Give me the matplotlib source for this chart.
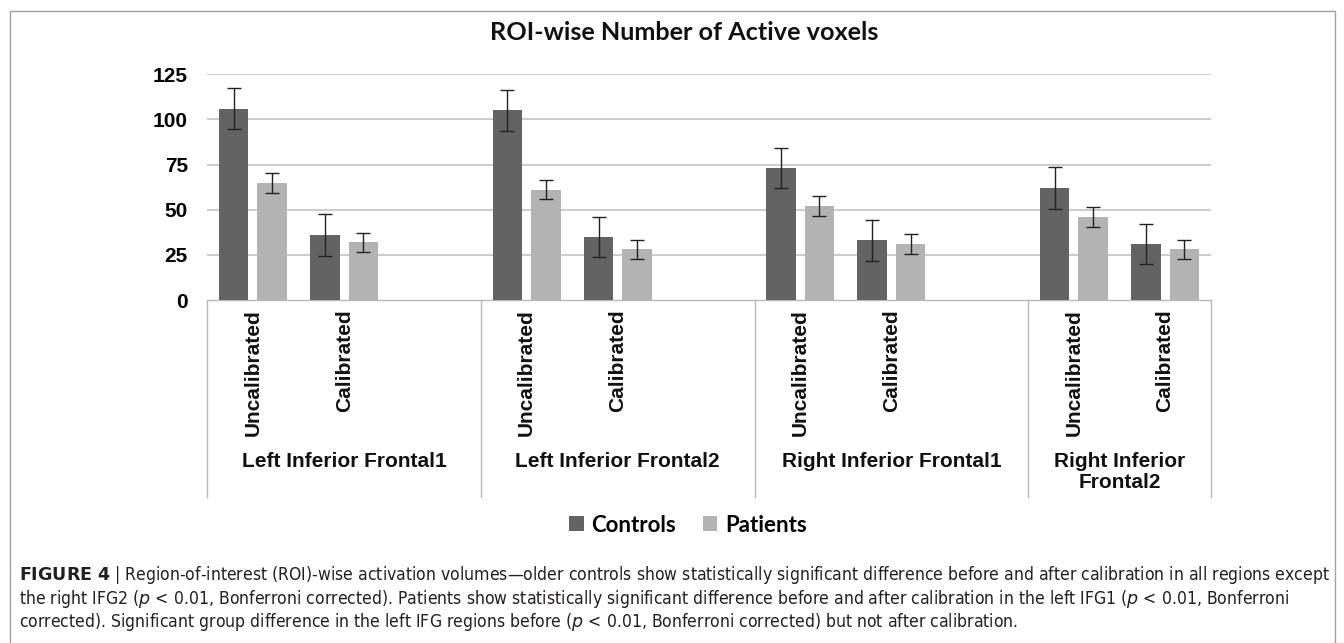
import matplotlib
matplotlib.use('Agg')
import matplotlib.pyplot as plt
from matplotlib.patches import Rectangle, Patch
from matplotlib import font_manager as fm
from matplotlib.transforms import blended_transform_factory
import numpy as np

# ---------------- data ----------------
regions = ["Left Inferior Frontal1", "Left Inferior Frontal2",
           "Right Inferior Frontal1", "Right Inferior\nFrontal2"]
conditions = ["Uncalibrated", "Calibrated"]
series = ["Controls", "Patients"]

controls_uncal = [106, 105, 73, 62]
controls_cal = [36, 35, 33, 31]
patients_uncal = [65, 61, 52, 46]
patients_cal = [32, 28, 31, 28]

controls_uncal_err = [11.5, 11.3, 11.2, 11.4]
controls_cal_err = [11.4, 11.2, 11.2, 11.0]
patients_uncal_err = [5.5, 5.3, 5.5, 5.6]
patients_cal_err = [5.3, 5.3, 5.6, 5.3]

yticks = [0, 25, 50, 75, 100, 125]
title = "ROI-wise Number of Active voxels"
caption_lines = [
    "$\\mathbf{FIGURE\\ 4}$ | Region-of-interest (ROI)-wise activation volumes\u2014older controls show statistically significant difference before and after calibration in all regions except",
    "the right IFG2 ($\\mathit{p}$ < 0.01, Bonferroni corrected). Patients show statistically significant difference before and after calibration in the left IFG1 ($\\mathit{p}$ < 0.01, Bonferroni",
    "corrected). Significant group difference in the left IFG regions before ($\\mathit{p}$ < 0.01, Bonferroni corrected) but not after calibration.",
]

# ---------------- style ----------------
def font_file(**kw):
    try:
        return fm.findfont(fm.FontProperties(**kw), fallback_to_default=False)
    except Exception:
        return None

capfam, capstretch = 'Liberation Sans', 'normal'
f = font_file(family='Liberation Sans Narrow')
if f and 'Narrow' in f:
    capfam = 'Liberation Sans Narrow'
else:
    f = font_file(family='DejaVu Sans', stretch='condensed')
    if f and 'Condensed' in f:
        capfam, capstretch = 'DejaVu Sans', 'condensed'

plt.rcParams['mathtext.fontset'] = 'custom'
plt.rcParams['mathtext.rm'] = capfam
plt.rcParams['mathtext.it'] = capfam + ':italic'
plt.rcParams['mathtext.bf'] = capfam + ':bold'

dark = '#636363'
light = '#b3b3b3'
gridc = '#c4c4c4'
linec = '#b8b8b8'

W, H = 1344, 643
fx = lambda x: x / W
fy = lambda y: 1 - y / H

fig = plt.figure(figsize=(W / 100, H / 100), dpi=100)
fig.patch.set_facecolor('white')

ax = fig.add_axes([fx(207.3), fy(300), (1210.7 - 207.3) / W, (300 - 74.3) / H])

# category positions: 3 slots per region (last region has 2)
pos_uncal = np.array([3 * g for g in range(len(regions))], dtype=float)
pos_cal = pos_uncal + 1
bw = 0.323
off = 0.211

ax.bar(pos_uncal - off, controls_uncal, bw, color=dark, zorder=3)
ax.bar(pos_cal - off, controls_cal, bw, color=dark, zorder=3)
ax.bar(pos_uncal + off, patients_uncal, bw, color=light, zorder=3)
ax.bar(pos_cal + off, patients_cal, bw, color=light, zorder=3)

ekw = dict(fmt='none', ecolor='#222222', elinewidth=1.0, capsize=5, capthick=1.0, zorder=4)
ax.errorbar(pos_uncal - off, controls_uncal, yerr=controls_uncal_err, **ekw)
ax.errorbar(pos_cal - off, controls_cal, yerr=controls_cal_err, **ekw)
ax.errorbar(pos_uncal + off, patients_uncal, yerr=patients_uncal_err, **ekw)
ax.errorbar(pos_cal + off, patients_cal, yerr=patients_cal_err, **ekw)

ax.set_xlim(-0.5, 10.5)
ax.set_ylim(0, 125)
ax.set_yticks(yticks)
ax.set_yticklabels([str(v) for v in yticks], fontsize=15, fontweight='bold', family='Liberation Sans')
ax.tick_params(axis='y', length=0, pad=14)
ax.set_xticks([])
for s in ['left', 'right', 'top']:
    ax.spines[s].set_visible(False)
ax.spines['bottom'].set_color(linec)
ax.spines['bottom'].set_linewidth(1.0)
for v in yticks[1:]:
    ax.axhline(v, color=gridc, lw=1.2, zorder=1)

# multi-level category axis
tr = blended_transform_factory(ax.transData, fig.transFigure)
for g in range(len(regions)):
    for s, cond in enumerate(conditions):
        ax.text(3 * g + s, fy(309), cond, transform=tr, rotation=90, ha='center', va='top',
                fontsize=15, fontweight='bold', family='Liberation Sans', color='#111111')
bounds = [-0.5, 2.5, 5.5, 8.5, 10.5]
for b in bounds:
    ax.plot([b, b], [fy(300), fy(497)], transform=tr, color=linec, lw=1.0, clip_on=False)
group_centers = [(bounds[i] + bounds[i + 1]) / 2 for i in range(len(regions))]
for c, name in zip(group_centers, regions):
    two = '\n' in name
    ax.text(c, fy(452) if two else fy(467), name, transform=tr, ha='center',
            va='top' if two else 'baseline', fontsize=15,
            fontweight='bold', family='Liberation Sans', color='#111111', linespacing=1.15,
            multialignment='center')

# title
fig.text(fx(684), fy(32), title, ha='center', va='center', fontsize=18.2,
         fontweight='bold', family='Lato', color='#111111')

# legend
handles = [Patch(facecolor=dark, edgecolor='none'), Patch(facecolor=light, edgecolor='none')]
fig.legend(handles, series, loc='center', bbox_to_anchor=(fx(688), fy(525)), ncol=2,
           frameon=False, handlelength=0.65, handleheight=0.65, handletextpad=0.35,
           columnspacing=1.2, prop=dict(family='Lato', weight='bold', size=16))

# frame
fig.patches.append(Rectangle((fx(9.5), fy(660)), (1335 - 9.5) / W, (660 - 11) / H,
                             transform=fig.transFigure, fill=False, edgecolor='#a0a0a0', lw=1.0))

# caption
cap_y = [575, 599, 622]
cap_texts = []
base = 12
for yv, line in zip(cap_y, caption_lines):
    cap_texts.append(fig.text(fx(19), fy(yv), line, ha='left', va='center', fontsize=base,
                              family=capfam, stretch=capstretch, color='#231f20'))
fig.canvas.draw()
r = fig.canvas.get_renderer()
wpx = cap_texts[0].get_window_extent(r).width
scale = (1325 - 19) / wpx
for t in cap_texts:
    t.set_fontsize(base * scale)

fig.savefig('out.png', dpi=100)
